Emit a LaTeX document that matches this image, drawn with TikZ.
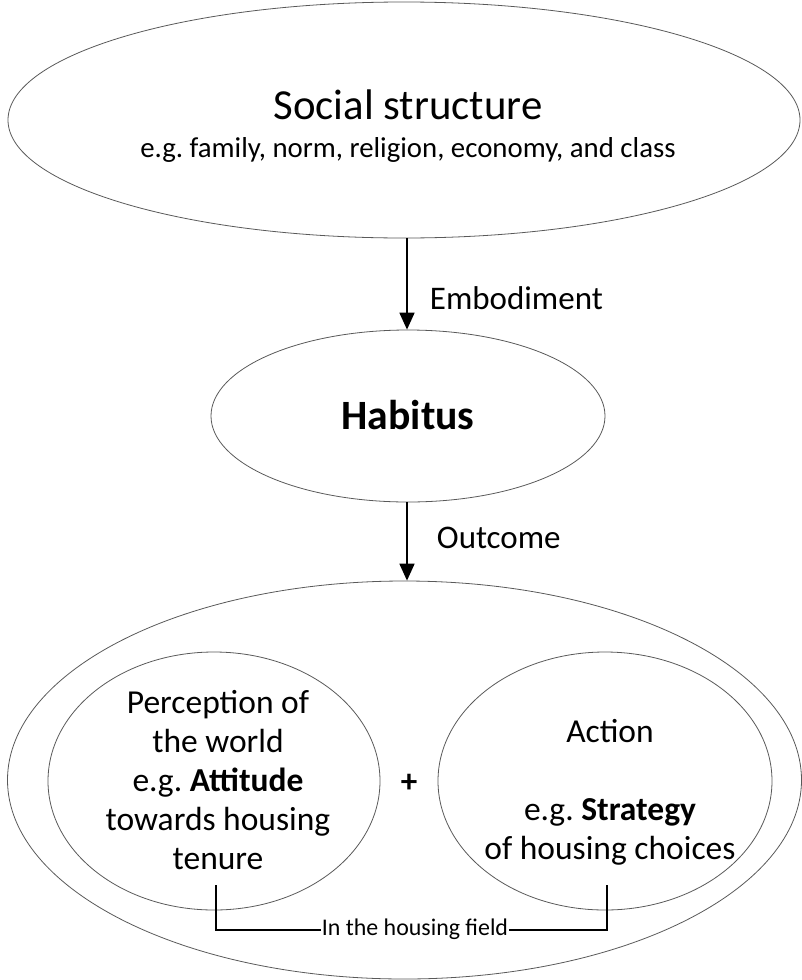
\documentclass[tikz,border=0pt]{standalone}
\usepackage{fontspec}
\setmainfont{Carlito}
\usetikzlibrary{shapes.geometric,arrows.meta}
\begin{document}
\frenchspacing
\begin{tikzpicture}[x=1pt,y=-1pt,
  oval/.style={draw=black!65,line width=0.8pt,ellipse,inner sep=0pt},
  txt/.style={align=center,inner sep=0pt,font=\fontsize{33.5}{39}\selectfont},
  flow/.style={line width=1.8pt,-{Triangle[width=15pt,length=17pt]}},
  lbl/.style={anchor=west,inner sep=0pt,font=\fontsize{33}{39}\selectfont},
  brk/.style={line width=1.8pt}]
\useasboundingbox (0,0) rectangle (801,980);
% ellipses
\node[oval,minimum width=792pt,minimum height=236pt] (soc) at (404,120) {};
\node[oval,minimum width=394pt,minimum height=172pt] (hab) at (408,416) {};
\node[oval,minimum width=794pt,minimum height=398pt] (out) at (404.5,780) {};
\node[oval,minimum width=332pt,minimum height=258pt] (per) at (214,781) {};
\node[oval,minimum width=334pt,minimum height=258pt] (act) at (605,781) {};
% texts
\node[inner sep=0pt,font=\fontsize{42.8}{48}\selectfont] (soct) at (408,105) {Social structure};
\node[inner sep=0pt,font=\fontsize{28.8}{34}\selectfont] (socs) at (408,150) {e.g. family, norm, religion, economy, and class};
\node[inner sep=0pt,font=\fontsize{41.7}{48}\selectfont\bfseries] (habt) at (408,415) {Habitus};
\node[txt] (pert) at (218,780) {Perception of\\the world\\e.g. \textbf{Attitude}\\towards housing\\tenure};
\node[txt] (actt) at (610,792) {Action\\ \\e.g. \textbf{Strategy}\\of housing choices};
\node[inner sep=0pt,font=\fontsize{33}{39}\selectfont\bfseries] (plus) at (409,783) {+};
% arrows
\draw[flow] (soc.south) ++(3,0) coordinate (a1) -- (a1 |- hab.north) node[pos=0.65,right=22pt,lbl] (emb) {Embodiment};
\draw[flow] (hab.south) ++(-1,0) coordinate (a2) -- (a2 |- out.north) node[pos=0.46,right=29pt,lbl] (outc) {Outcome};
% bracket
\coordinate (bl) at (216,885);
\coordinate (br) at (607,885);
\draw[brk] (bl) |- (br |- 0,930) -- (br);
\node[fill=white,inner sep=1pt,font=\fontsize{23.9}{28}\selectfont] (field) at (415,929) {In the housing field};
\end{tikzpicture}
\end{document}
